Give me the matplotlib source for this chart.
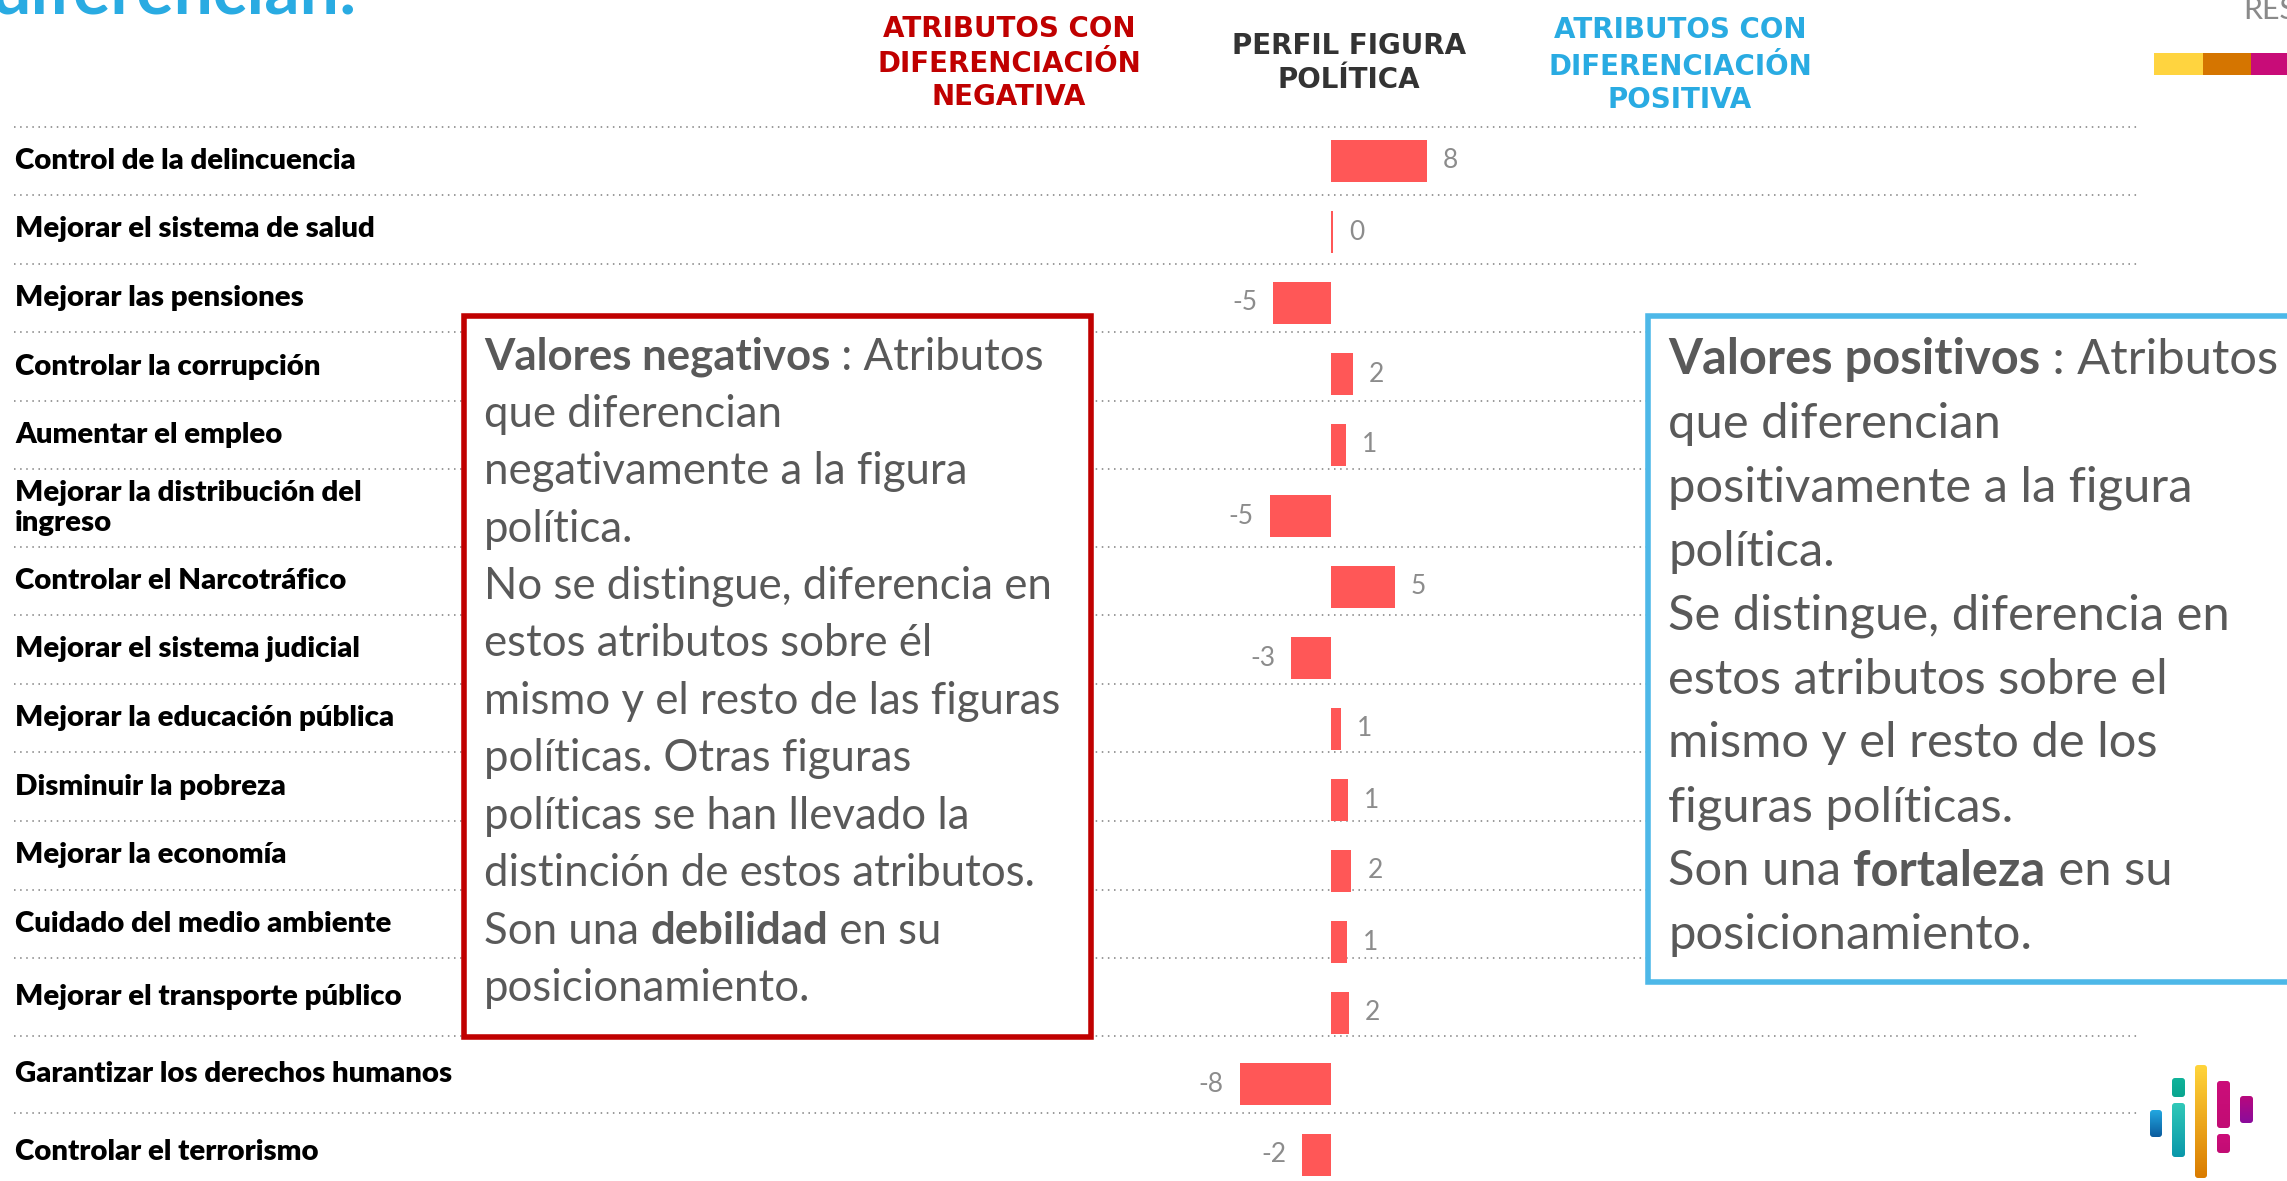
import matplotlib
matplotlib.use("Agg")
import matplotlib.pyplot as plt
from matplotlib.patches import Rectangle, FancyBboxPatch
from matplotlib.colors import LinearSegmentedColormap
import numpy as np

FONT = ["Lato", "DejaVu Sans"]
HEAD_FONT = ["DejaVu Sans"]

# ---- data ----
categorias = [
    "Control de la delincuencia",
    "Mejorar el sistema de salud",
    "Mejorar las pensiones",
    "Controlar la corrupción",
    "Aumentar el empleo",
    "Mejorar la distribución del\ningreso",
    "Controlar el Narcotráfico",
    "Mejorar el sistema judicial",
    "Mejorar la educación pública",
    "Disminuir la pobreza",
    "Mejorar la economía",
    "Cuidado del medio ambiente",
    "Mejorar el transporte público",
    "Garantizar los derechos humanos",
    "Controlar el terrorismo",
]
valores = [8.0, 0.2, -4.8, 1.8, 1.25, -5.1, 5.3, -3.3, 0.85, 1.4, 1.7, 1.35, 1.5, -7.6, -2.4]

cab_negativa = ["ATRIBUTOS CON", "DIFERENCIACIÓN", "NEGATIVA"]
cab_perfil = ["PERFIL FIGURA", "POLÍTICA"]
cab_positiva = ["ATRIBUTOS CON", "DIFERENCIACIÓN", "POSITIVA"]

texto_negativo = [
    [("Valores negativos", True), (" : Atributos", False)],
    [("que diferencian", False)],
    [("negativamente a la figura", False)],
    [("política.", False)],
    [("No se distingue, diferencia en", False)],
    [("estos atributos sobre él", False)],
    [("mismo y el resto de las figuras", False)],
    [("políticas. Otras figuras", False)],
    [("políticas se han llevado la", False)],
    [("distinción de estos atributos.", False)],
    [("Son una ", False), ("debilidad", True), (" en su", False)],
    [("posicionamiento.", False)],
]
texto_positivo = [
    [("Valores positivos", True), (" : Atributos", False)],
    [("que diferencian", False)],
    [("positivamente a la figura", False)],
    [("política.", False)],
    [("Se distingue, diferencia en", False)],
    [("estos atributos sobre el", False)],
    [("mismo y el resto de los", False)],
    [("figuras políticas.", False)],
    [("Son una ", False), ("fortaleza", True), (" en su", False)],
    [("posicionamiento.", False)],
]

# row borders of the label table (pixels from top)
bordes = [127, 195, 264, 332, 401, 469, 547, 615, 684, 752, 821, 890, 958, 1036, 1113, 1190]

W, H = 2287, 1181
fig = plt.figure(figsize=(W / 100, H / 100), dpi=100)
fig.patch.set_facecolor("white")

bg = fig.add_axes([0, 0, 1, 1])
bg.set_xlim(0, W)
bg.set_ylim(H, 0)
bg.axis("off")

gris = "#595959"

# title remnant and top-right text (both cut by the page edge, as in the slide)
bg.text(-8, 14, "diferencian:", fontsize=50, fontweight="bold", color="#29ABE2",
        family=FONT, va="baseline", ha="left")
bg.text(2243, 19, "RESULTADOS", fontsize=22, color="#8A8A8A",
        family=FONT, va="baseline", ha="left")
for x0, w, c in [(2154, 49, "#FFD43F"), (2203, 48, "#D57500"), (2251, 40, "#C80C78")]:
    bg.add_patch(Rectangle((x0, 53), w, 22, color=c, lw=0))

# headers
for lines, x, ys, col in [(cab_negativa, 1009, [29, 64, 97], "#C00000"),
                          (cab_perfil, 1349, [46, 80], "#333333"),
                          (cab_positiva, 1680, [30, 67, 100], "#29ABE2")]:
    for t, y in zip(lines, ys):
        bg.text(x, y, t, fontsize=20, fontweight="bold", color=col, family=HEAD_FONT,
                ha="center", va="center")

# dotted separators
for y in bordes:
    bg.plot([14, 2137], [y, y], color="#7F7F7F", lw=1.1, ls=(0, (1, 3)), zorder=1)

# category labels
for i, cat in enumerate(categorias):
    yc = (bordes[i] + bordes[i + 1]) / 2
    bg.text(15, yc, cat, fontsize=21.2, fontweight="heavy", color="black", family=FONT,
            ha="left", va="center", linespacing=1.2, zorder=2)

# boxes
bg.add_patch(Rectangle((464, 316), 627, 721, facecolor="white", edgecolor="#C00000",
                       lw=4, zorder=3))
bg.add_patch(Rectangle((1648, 316), 700, 666, facecolor="white", edgecolor="#4DB8E8",
                       lw=4, zorder=3))


def parrafo(lineas, x, y0, paso, size):
    for k, segs in enumerate(lineas):
        y = y0 + k * paso
        prev = None
        for txt, negrita in segs:
            w = "bold" if negrita else "normal"
            if prev is None:
                prev = bg.text(x, y, txt, fontsize=size, fontweight=w, color=gris,
                               family=FONT, ha="left", va="center", zorder=4)
            else:
                prev = bg.annotate(txt, xy=(1, 0.5), xycoords=prev, fontsize=size,
                                   fontweight=w, color=gris, family=FONT,
                                   ha="left", va="center", zorder=4)


parrafo(texto_negativo, 484, 357, 57.4, 31.5)
parrafo(texto_positivo, 1668, 360, 63.9, 35.2)

# logo
piezas = [
    (2150, 1110, 2162, 1137, "#22A7E0", "#0B5C9E"),
    (2172, 1078, 2185, 1097, "#10B39A", "#0AA58F"),
    (2172, 1103, 2185, 1157, "#30C8B8", "#0A98AA"),
    (2195, 1065, 2207, 1178, "#FFD43B", "#DA7C00"),
    (2217, 1081, 2230, 1128, "#CC0E7A", "#C20C74"),
    (2217, 1134, 2230, 1153, "#CC0E7A", "#C20C74"),
    (2240, 1096, 2253, 1123, "#B8087D", "#8A0C9C"),
]
for x0, y0, x1, y1, c0, c1 in piezas:
    p = FancyBboxPatch((x0 + 3, y0 + 3), x1 - x0 - 6, y1 - y0 - 6,
                       boxstyle="round,pad=3", facecolor="none", edgecolor="none")
    bg.add_patch(p)
    cm = LinearSegmentedColormap.from_list("g", [c0, c1])
    im = bg.imshow(np.linspace(0, 1, 50).reshape(-1, 1), cmap=cm, aspect="auto",
                   extent=(x0, x1, y1, y0), origin="upper", zorder=5)
    im.set_clip_path(p)
bg.set_xlim(0, W)
bg.set_ylim(H, 0)

# bar chart axis (zero at x=1331, 12 px per unit, 71 px per row)
fila = 71
top = 161 - fila / 2
alto = fila * len(valores)
ax = fig.add_axes([(1331 - 120) / W, (H - top - alto) / H, 240 / W, alto / H])
ax.patch.set_alpha(0)
ax.set_xlim(-10, 10)
ax.set_ylim(len(valores) - 0.5, -0.5)
ax.axis("off")
pos = np.arange(len(valores))
ax.barh(pos, valores, height=0.585, color="#FF5757", zorder=6)
for y, v in zip(pos, valores):
    ax.annotate(f"{v:.0f}", xy=(v, y), xytext=(11.5 if v >= 0 else -11.5, 0),
                textcoords="offset points", ha="left" if v >= 0 else "right",
                va="center", fontsize=19, color="#8C8C8C", family=FONT)

fig.savefig("out.png", dpi=100, facecolor="white")
